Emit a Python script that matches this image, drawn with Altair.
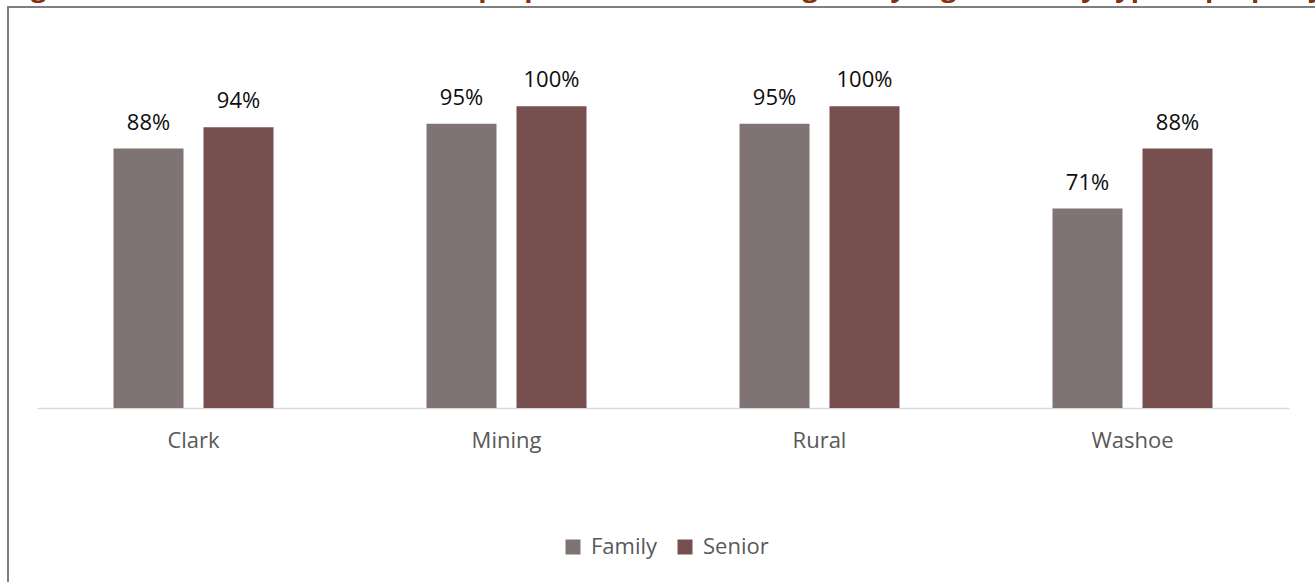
import altair as alt
import pandas as pd

regions = ["Clark", "Mining", "Rural", "Washoe"]
types = ["Family", "Senior"]
family = [88, 95, 95, 71]
senior = [94, 100, 100, 88]
colors = ["#7F7473", "#764F4E"]
title_text = ("Figure 18: Number and share of all properties with a waiting list "
              "by region and by type of property")

YMIN, YMAX = 14.5, 118.75

rows = []
for r, f, s in zip(regions, family, senior):
    rows.append({"region": r, "type": "Family", "value": f, "label": f"{f}%"})
    rows.append({"region": r, "type": "Senior", "value": s, "label": f"{s}%"})
df = pd.DataFrame(rows)

FONT = "Open Sans"

x = alt.X("region:N", sort=regions,
          scale=alt.Scale(paddingInner=0, paddingOuter=0),
          axis=alt.Axis(title=None, labelAngle=0, labelFont=FONT, labelFontSize=22,
                        labelColor="#595959", labelPadding=22, ticks=False,
                        domainColor="#d9d9d9", domainWidth=1.5, grid=False))
xo = alt.XOffset("type:N", sort=types,
                 scale=alt.Scale(paddingInner=0.2222, paddingOuter=0.85))
y = alt.Y("value:Q", scale=alt.Scale(domain=[YMIN, YMAX], zero=False, nice=False), axis=None)

base = alt.Chart(df)

bars = base.mark_bar().encode(
    x=x, xOffset=xo, y=y, y2=alt.Y2(datum=YMIN),
    color=alt.Color("type:N", sort=types,
                    scale=alt.Scale(domain=types, range=colors),
                    legend=alt.Legend(title=None, orient="none", legendX=525, legendY=496,
                                      direction="horizontal", symbolType="square",
                                      symbolSize=225, symbolStrokeWidth=0, symbolOpacity=1,
                                      labelFont=FONT, labelFontSize=22, labelColor="#595959",
                                      labelOffset=7, columnPadding=16, padding=0)),
)

labels = base.mark_text(baseline="alphabetic", dy=-19, font=FONT, fontSize=22,
                        color="#0d0d0d").encode(
    x=x, xOffset=xo, y=y, text="label:N")

one = alt.Chart(pd.DataFrame({"k": [0]}))
frame = one.mark_rect(fillOpacity=0, stroke="#7f7f7f", strokeWidth=2).encode(
    x=alt.value(-29), x2=alt.value(1300), y=alt.value(-33), y2=alt.value(560))
title = one.mark_text(align="left", baseline="alphabetic", font=FONT, fontSize=27,
                      fontWeight="bold", color="#85300F", text=title_text).encode(
    x=alt.value(-29), y=alt.value(-43.5))

chart = alt.layer(frame, bars, labels, title).properties(
    width=1252, height=368,
    background="white",
    autosize=alt.AutoSizeParams(type="none"),
    padding={"left": 37, "top": 40, "right": 26, "bottom": 174},
).configure_view(strokeWidth=0, stroke="transparent")

chart.save("out.html", embed_options={"renderer": "svg", "actions": False})
